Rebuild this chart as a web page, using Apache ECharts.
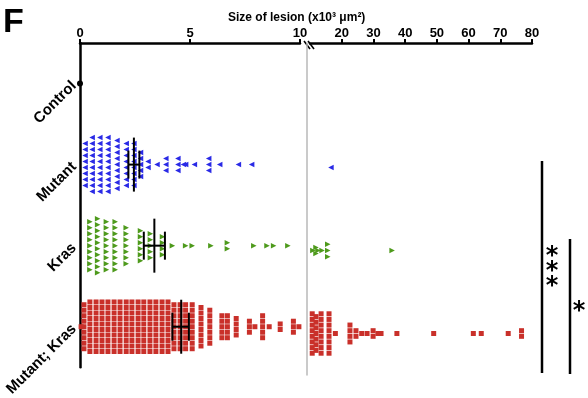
<!DOCTYPE html>
<html>
<head>
<meta charset="utf-8">
<script src="https://cdn.jsdelivr.net/npm/echarts@6.0.0/dist/echarts.min.js"></script>
<style>
html,body{margin:0;padding:0;background:#fff}
#chart{width:588px;height:398px}
</style>
</head>
<body>
<div id="chart"></div>
<script>
// rows of the dot plot, top to bottom
var categories = ['Control', 'Mutant', 'Kras', 'Mutant; Kras'];

// lesion size (x10^3 um^2) columns: [value, number of dots]
var controlCols = [[0, 1]];
var mutantCols = [[0.23,8],[0.55,10],[0.9,10],[1.27,10],[1.68,9],[2.1,8],[2.45,8],[2.75,5],
  [3.09,2],[3.5,1],[3.9,3],[4.45,3],[4.7,1],[4.8,1],[5.2,1],[5.85,3],[6.35,1],[7.2,1],[7.8,1],
  [16.6,1]];
var krasCols = [[0.45,9],[0.8,10],[1.2,9],[1.6,9],[2.1,7],[2.75,6],[3.2,5],[3.75,4],[4.2,1],
  [4.8,1],[5.1,1],[5.95,1],[6.7,2],[7.9,1],[8.5,1],[8.8,1],[9.45,1],
  [10.9,1],[11.9,2],[12.5,1],[13.8,1],[15.6,3],[35.9,1]];
var mutKrasCols = [[0.05,1],[0.18,9],[0.45,10],[0.73,10],[1.0,10],[1.27,10],[1.55,10],[1.82,10],
  [2.1,10],[2.36,10],[2.64,10],[2.9,10],[3.18,10],[3.45,10],[3.73,10],[4.0,10],[4.27,9],
  [4.55,9],[4.8,9],[5.1,9],[5.5,8],[5.9,7],[6.45,5],[6.7,5],[7.1,4],[7.7,3],[7.95,1],[8.3,5],
  [8.6,1],[9.1,2],[9.7,3],[9.95,1],
  [10.7,8],[11.9,7],[13.5,8],[16,8],[18,1],[22.6,4],[24.5,2],[26.3,1],[28,1],[29.9,2],[31.4,1],
  [32.4,1],[37.4,1],[49,1],[61.5,1],[64,1],[72.5,1],[76.7,2]];

// mean and SEM for Mutant, Kras, Mutant; Kras
var meanRows = [1, 2, 3];
var means = [2.45, 3.38, 4.6];
var semLow = [2.2, 2.9, 4.2];
var semHigh = [2.7, 3.86, 4.95];

var leftTicks = [0, 5, 10];
var rightTicks = [20, 30, 40, 50, 60, 70, 80];

var FONT = 'Liberation Sans';
var chart = echarts.init(document.getElementById('chart'));

var meanData = means.map(function (m, i) { return [m, semLow[i], semHigh[i], meanRows[i]]; });

var starStyle = {text: '*', font: 'bold 24px DejaVu Sans', fill: '#000', textAlign: 'center', textVerticalAlign: 'middle'};

var option = {
  animation: false,
  title: {
    text: 'Size of lesion (x10\u00b3 \u03bcm\u00b2)',
    left: 223, top: 7,
    textStyle: {fontFamily: FONT, fontSize: 12, fontWeight: 'bold', color: '#000'}
  },
  grid: [
    {left: 80, top: 43, width: 220, height: 332},
    {left: 310, top: 43, width: 222, height: 332}
  ],
  xAxis: [{
    gridIndex: 0, type: 'value', position: 'top',
    min: leftTicks[0], max: leftTicks[leftTicks.length - 1], interval: leftTicks[1] - leftTicks[0],
    axisLine: {onZero: false, lineStyle: {color: '#000', width: 2.5}},
    axisTick: {length: 4, lineStyle: {color: '#000', width: 2}},
    axisLabel: {fontFamily: FONT, fontSize: 13, fontWeight: 'bold', color: '#000', margin: 3},
    splitLine: {show: false}
  }, {
    gridIndex: 1, type: 'value', position: 'top',
    min: 10, max: rightTicks[rightTicks.length - 1], interval: 10,
    axisLine: {onZero: false, lineStyle: {color: '#000', width: 2.5}},
    axisTick: {length: 4, lineStyle: {color: '#000', width: 2}},
    axisLabel: {fontFamily: FONT, fontSize: 13, fontWeight: 'bold', color: '#000', margin: 3, showMinLabel: false},
    splitLine: {show: false}
  }],
  yAxis: [{
    gridIndex: 0, type: 'category', data: categories, inverse: true,
    axisLine: {onZero: false, lineStyle: {color: '#000', width: 2.5}},
    axisTick: {alignWithLabel: true, length: 5, lineStyle: {color: '#000', width: 2}},
    axisLabel: {rotate: 45, fontFamily: FONT, fontSize: 15, fontWeight: 'bold', color: '#000', margin: 6}
  }, {
    gridIndex: 0, type: 'value', min: -0.5, max: 3.5, inverse: true, show: false
  }, {
    gridIndex: 1, type: 'value', min: -0.5, max: 3.5, inverse: true, offset: 3,
    axisLine: {show: true, onZero: false, lineStyle: {color: '#b8b8b8', width: 1.5}},
    axisTick: {show: false}, axisLabel: {show: false}, splitLine: {show: false}
  }],
  series: [{
    type: 'custom', xAxisIndex: 0, yAxisIndex: 1, z: 10,
    encode: {x: [0, 1, 2], y: 3},
    data: meanData,
    renderItem: function (params, api) {
      var row = api.value(3);
      var m = api.coord([api.value(0), row]);
      var lo = api.coord([api.value(1), row]);
      var hi = api.coord([api.value(2), row]);
      var st = {stroke: '#000', lineWidth: 2};
      return {type: 'group', children: [
        {type: 'line', shape: {x1: m[0], y1: m[1] - 27, x2: m[0], y2: m[1] + 27}, style: st},
        {type: 'line', shape: {x1: lo[0], y1: lo[1] - 14, x2: lo[0], y2: lo[1] + 14}, style: st},
        {type: 'line', shape: {x1: hi[0], y1: hi[1] - 14, x2: hi[0], y2: hi[1] + 14}, style: st},
        {type: 'line', shape: {x1: lo[0], y1: lo[1], x2: hi[0], y2: hi[1]}, style: st}
      ]};
    }
  }],
  graphic: [
    {type: 'text', left: 3, top: 6, style: {text: 'F', font: 'bold 34px ' + FONT, fill: '#000'}},
    // axis break
    {type: 'line', shape: {x1: 304, y1: 41, x2: 310, y2: 49}, style: {stroke: '#000', lineWidth: 1.5}},
    {type: 'line', shape: {x1: 308, y1: 41, x2: 314, y2: 49}, style: {stroke: '#000', lineWidth: 1.5}},
    // significance bars
    {type: 'line', shape: {x1: 542, y1: 161, x2: 542, y2: 373}, style: {stroke: '#000', lineWidth: 2.5}},
    {type: 'line', shape: {x1: 570, y1: 239, x2: 570, y2: 374}, style: {stroke: '#000', lineWidth: 2.5}},
    {type: 'text', x: 552, y: 257, style: starStyle},
    {type: 'text', x: 552, y: 272, style: starStyle},
    {type: 'text', x: 552, y: 287, style: starStyle},
    {type: 'text', x: 579, y: 312, style: starStyle}
  ]
};
chart.setOption(option);

// stack the dots of each column vertically around the row centre
var rowPx = chart.convertToPixel({yAxisIndex: 1}, 1) - chart.convertToPixel({yAxisIndex: 1}, 0);
function stack(cols, row, gapPx, right) {
  var out = [];
  cols.forEach(function (c) {
    if ((c[0] > 10) !== right) return;
    for (var i = 0; i < c[1]; i++) {
      out.push([c[0], row + (i - (c[1] - 1) / 2) * gapPx / rowPx]);
    }
  });
  return out;
}

var groups = [
  {cols: controlCols, row: 0, gap: 6, symbol: 'circle', size: 6, rot: 0, color: '#000'},
  {cols: mutantCols, row: 1, gap: 6, symbol: 'triangle', size: 5.5, rot: 90, color: '#2a2ae6'},
  {cols: krasCols, row: 2, gap: 6, symbol: 'triangle', size: 5.5, rot: -90, color: '#4e9a1c'},
  {cols: mutKrasCols, row: 3, gap: 5.5, symbol: 'rect', size: 5, rot: 0, color: '#c9302a'}
];
var series = [option.series[0]];
groups.forEach(function (g) {
  [false, true].forEach(function (right) {
    series.push({
      type: 'scatter',
      xAxisIndex: right ? 1 : 0,
      yAxisIndex: right ? 2 : 1,
      symbol: g.symbol, symbolSize: g.size, symbolRotate: g.rot,
      itemStyle: {color: g.color, opacity: 1},
      data: stack(g.cols, g.row, g.gap, right),
      z: 2
    });
  });
});
chart.setOption({series: series});
</script>
</body>
</html>
